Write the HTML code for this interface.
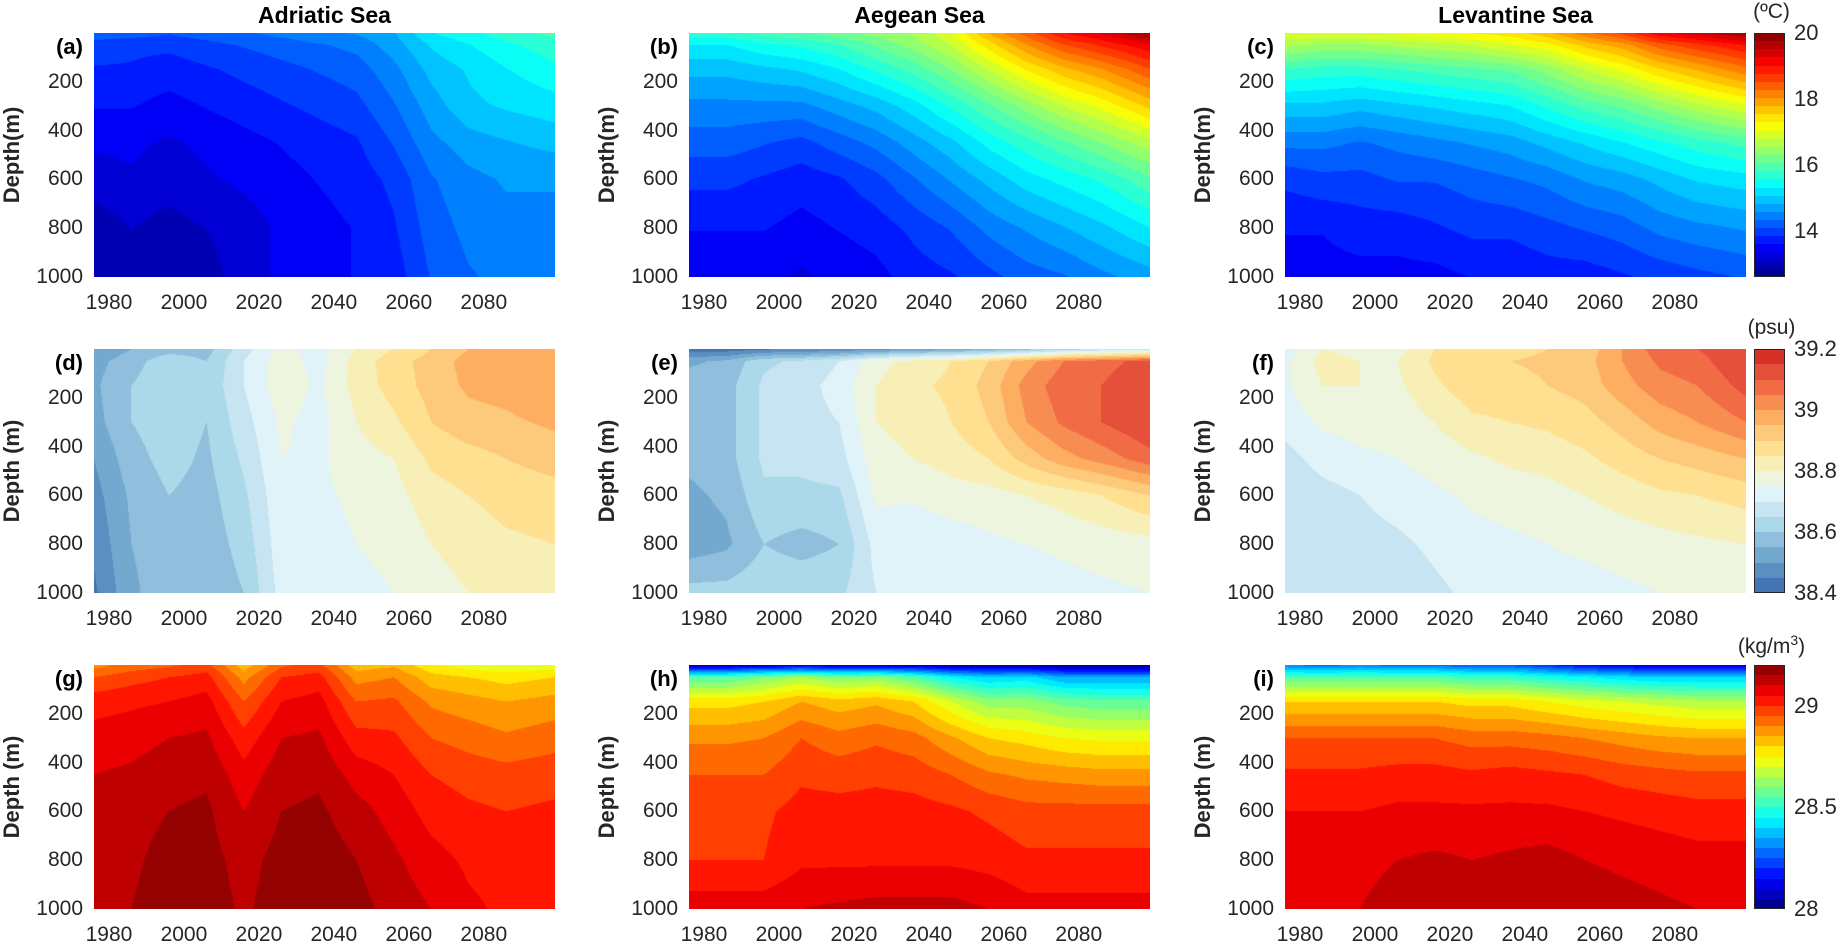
<!DOCTYPE html>
<html><head><meta charset="utf-8"><style>
body{margin:0;background:#fff;width:1841px;height:945px;overflow:hidden;position:relative;font-family:"Liberation Sans",sans-serif;color:#262626}
.t{position:absolute;white-space:nowrap}
canvas{position:absolute}
</style></head><body>
<div id="root"></div>
<script>
// ---- data ----
const years=[1976,1986,1996,2006,2016,2026,2036,2046,2056,2066,2076,2086,2099];
const depths=[0,50,150,300,450,600,800,1000];
const xTicks=[1980,2000,2020,2040,2060,2080];
const yTicks=[200,400,600,800,1000];
const tempTicks=[14,16,18,20];
const salTicks=[38.4,38.6,38.8,39,39.2];
const denTicks=[28,28.5,29];
const tempA=[[14.2,14.2,14.1,14.2,14.3,14.4,14.5,14.6,14.8,15.3,15.5,15.7,15.9],[14.0,13.9,13.9,14.0,14.1,14.2,14.3,14.4,14.7,15.1,15.3,15.5,15.7],[13.8,13.8,13.7,13.8,13.9,14.0,14.1,14.2,14.5,14.9,15.1,15.3,15.5],[13.6,13.6,13.5,13.6,13.7,13.8,13.9,14.0,14.3,14.7,15.0,15.1,15.2],[13.4,13.4,13.3,13.4,13.5,13.6,13.7,13.8,14.1,14.5,14.7,14.8,14.9],[13.2,13.3,13.2,13.3,13.4,13.5,13.6,13.7,13.9,14.3,14.5,14.6,14.6],[12.95,13.1,13.0,13.1,13.2,13.4,13.5,13.6,13.8,14.2,14.4,14.5,14.5],[12.85,13.0,12.95,13.0,13.2,13.4,13.5,13.6,13.7,14.1,14.3,14.4,14.4]];
const tempB=[[15.7,15.7,15.9,16.0,16.2,16.4,16.6,17.0,17.8,18.4,19.0,19.3,19.8],[15.3,15.3,15.5,15.6,15.8,16.1,16.4,16.8,17.4,18.0,18.5,18.8,19.2],[14.9,14.9,15.0,15.1,15.3,15.6,15.9,16.3,16.8,17.3,17.7,18.0,18.5],[14.5,14.5,14.5,14.5,14.7,14.9,15.2,15.6,16.0,16.4,16.8,17.1,17.6],[14.2,14.2,14.1,14.0,14.2,14.4,14.7,15.0,15.4,15.7,16.0,16.3,16.7],[13.9,13.9,13.8,13.7,13.8,14.0,14.3,14.6,14.9,15.2,15.4,15.6,16.0],[13.6,13.6,13.6,13.5,13.6,13.7,13.9,14.1,14.4,14.6,14.8,15.0,15.3],[13.4,13.4,13.4,13.3,13.4,13.5,13.7,13.8,14.0,14.2,14.3,14.5,14.7]];
const tempC=[[17.0,17.0,17.0,17.1,17.2,17.3,17.4,17.7,18.2,18.6,19.2,19.4,19.8],[16.6,16.5,16.5,16.6,16.7,16.8,17.0,17.2,17.6,17.9,18.4,18.7,19.0],[15.8,15.7,15.7,15.8,15.9,16.0,16.1,16.4,16.8,17.1,17.5,17.8,18.2],[15.0,15.0,14.9,15.0,15.1,15.2,15.3,15.6,15.9,16.1,16.4,16.7,17.0],[14.4,14.4,14.3,14.4,14.5,14.6,14.7,14.9,15.1,15.3,15.5,15.7,15.9],[13.9,14.0,14.0,14.1,14.1,14.2,14.3,14.4,14.6,14.7,14.9,15.1,15.2],[13.6,13.6,13.7,13.7,13.8,13.9,13.9,14.0,14.1,14.2,14.4,14.5,14.6],[13.5,13.5,13.5,13.5,13.5,13.6,13.6,13.7,13.7,13.8,13.9,14.0,14.1]];
const salD=[[38.50,38.55,38.58,38.58,38.68,38.76,38.73,38.80,38.85,38.90,38.95,38.95,38.98],[38.53,38.58,38.63,38.60,38.70,38.78,38.73,38.82,38.88,38.92,38.97,38.98,39.00],[38.54,38.60,38.64,38.61,38.70,38.78,38.74,38.82,38.87,38.92,38.96,38.97,39.00],[38.53,38.60,38.63,38.60,38.68,38.76,38.73,38.80,38.84,38.90,38.93,38.94,38.96],[38.50,38.58,38.62,38.59,38.66,38.75,38.74,38.78,38.80,38.86,38.88,38.90,38.92],[38.48,38.56,38.60,38.58,38.64,38.74,38.74,38.76,38.78,38.83,38.85,38.87,38.88],[38.46,38.55,38.58,38.57,38.62,38.73,38.73,38.75,38.76,38.80,38.82,38.84,38.85],[38.44,38.54,38.58,38.56,38.60,38.72,38.72,38.74,38.75,38.78,38.80,38.82,38.84]];
const salE=[[38.42,38.42,38.44,38.45,38.46,38.48,38.50,38.52,38.55,38.58,38.62,38.65,38.68],[38.54,38.56,38.64,38.66,38.70,38.78,38.82,38.85,38.90,38.98,39.05,39.08,39.12],[38.58,38.58,38.66,38.68,38.72,38.80,38.84,38.86,38.92,39.02,39.08,39.10,39.15],[38.58,38.58,38.66,38.68,38.70,38.80,38.82,38.85,38.90,39.00,39.06,39.10,39.15],[38.56,38.58,38.66,38.66,38.68,38.78,38.80,38.82,38.85,38.92,38.98,39.02,39.08],[38.54,38.56,38.64,38.64,38.64,38.76,38.76,38.78,38.78,38.80,38.82,38.85,38.90],[38.52,38.54,38.60,38.58,38.60,38.72,38.70,38.72,38.74,38.75,38.76,38.77,38.78],[38.62,38.62,38.64,38.64,38.64,38.70,38.72,38.72,38.72,38.72,38.73,38.74,38.75]];
const salF=[[38.72,38.80,38.78,38.78,38.85,38.88,38.88,38.90,38.92,39.00,39.08,39.10,39.15],[38.74,38.82,38.80,38.80,38.86,38.90,38.90,38.91,38.93,39.00,39.06,39.08,39.15],[38.74,38.80,38.80,38.79,38.84,38.88,38.88,38.90,38.92,38.98,39.03,39.05,39.12],[38.72,38.76,38.77,38.77,38.80,38.84,38.85,38.86,38.88,38.92,38.97,39.00,39.05],[38.68,38.72,38.74,38.75,38.77,38.79,38.81,38.82,38.84,38.87,38.90,38.92,38.95],[38.66,38.68,38.70,38.72,38.74,38.76,38.77,38.78,38.80,38.82,38.84,38.85,38.87],[38.65,38.66,38.68,38.69,38.71,38.73,38.74,38.75,38.76,38.77,38.78,38.79,38.80],[38.65,38.65,38.66,38.67,38.69,38.71,38.72,38.73,38.73,38.74,38.75,38.75,38.76]];
const denG=[[28.88,28.92,28.94,28.97,28.82,28.94,28.97,28.82,28.84,28.76,28.72,28.70,28.72],[28.95,28.98,29.00,29.02,28.88,29.00,29.02,28.88,28.90,28.82,28.80,28.78,28.80],[29.03,29.04,29.05,29.07,28.95,29.05,29.07,28.95,28.96,28.89,28.87,28.85,28.87],[29.07,29.08,29.10,29.11,29.02,29.10,29.11,29.02,29.01,28.95,28.93,28.91,28.93],[29.10,29.11,29.13,29.14,29.07,29.13,29.14,29.08,29.05,29.00,28.98,28.97,28.98],[29.12,29.13,29.15,29.16,29.10,29.15,29.16,29.12,29.08,29.03,29.01,29.00,29.01],[29.13,29.14,29.17,29.17,29.13,29.17,29.18,29.15,29.11,29.07,29.04,29.03,29.03],[29.14,29.15,29.18,29.18,29.14,29.18,29.18,29.17,29.13,29.10,29.06,29.04,29.03]];
const denH=[[28.05,28.05,28.08,28.10,28.08,28.08,28.08,28.05,28.05,28.05,28.02,28.02,28.02],[28.55,28.55,28.60,28.65,28.60,28.62,28.55,28.45,28.40,28.42,28.35,28.35,28.35],[28.78,28.78,28.80,28.85,28.82,28.84,28.80,28.70,28.62,28.62,28.58,28.56,28.56],[28.89,28.89,28.90,28.95,28.92,28.94,28.92,28.86,28.80,28.78,28.75,28.74,28.74],[28.95,28.95,28.95,28.99,28.98,28.99,28.98,28.95,28.91,28.89,28.88,28.87,28.87],[28.99,28.99,28.99,29.02,29.02,29.02,29.02,29.01,28.99,28.97,28.97,28.97,28.97],[29.00,29.00,29.00,29.04,29.04,29.04,29.04,29.04,29.03,29.01,29.01,29.01,29.01],[29.08,29.08,29.08,29.10,29.11,29.12,29.12,29.12,29.10,29.07,29.07,29.07,29.07]];
const denI=[[28.30,28.28,28.30,28.28,28.28,28.25,28.25,28.20,28.15,28.12,28.10,28.10,28.10],[28.55,28.55,28.55,28.55,28.55,28.52,28.52,28.48,28.45,28.42,28.40,28.40,28.40],[28.80,28.80,28.80,28.80,28.80,28.78,28.78,28.75,28.72,28.70,28.68,28.66,28.66],[28.95,28.95,28.95,28.95,28.95,28.93,28.93,28.92,28.90,28.88,28.86,28.85,28.85],[29.01,29.01,29.01,29.02,29.02,29.01,29.02,29.01,29.00,28.98,28.97,28.96,28.96],[29.05,29.05,29.05,29.06,29.06,29.06,29.06,29.06,29.05,29.04,29.03,29.02,29.02],[29.07,29.07,29.08,29.10,29.11,29.10,29.11,29.12,29.10,29.09,29.08,29.07,29.07],[29.09,29.09,29.10,29.13,29.13,29.13,29.14,29.14,29.13,29.12,29.11,29.10,29.09]];

// ---- layout ----
const X0=1976,X1=2099,D1=1000;
const colL=[94,689,1285],PW=461;
const rowT=[33,349,665],PH=244;
const CBX=1754,CBW=31;
const salCols=['#4575b4','#5b8fc2','#74a9cf','#8fbfdc','#abd9e9','#c6e4f2','#e0f3f8','#eef5df','#f7efb5','#fee090','#fdc97a','#fdae61','#f88d52','#f16c44','#e4503a','#d73027'];
function jet(x){const c=v=>Math.max(0,Math.min(1,v));return [c(1.5-Math.abs(4*x-3)),c(1.5-Math.abs(4*x-2)),c(1.5-Math.abs(4*x-1))].map(v=>Math.round(v*255));}
function hex(h){return [parseInt(h.substr(1,2),16),parseInt(h.substr(3,2),16),parseInt(h.substr(5,2),16)];}
const scales=[
 {min:12.6,max:20,n:30,cmap:i=>jet((i+0.5)/30),ticks:tempTicks,unit:'(ºC)'},
 {min:38.4,max:39.2,n:16,cmap:i=>hex(salCols[i]),ticks:salTicks,unit:'(psu)'},
 {min:28,max:29.2,n:24,cmap:i=>jet((i+0.5)/24),ticks:denTicks,unit:'(kg/m<sup style="font-size:14px">3</sup>)'}];
const panels=[[tempA,tempB,tempC],[salD,salE,salF],[denG,denH,denI]];
const letters=[['a','b','c'],['d','e','f'],['g','h','i']];
const titles=['Adriatic Sea','Aegean Sea','Levantine Sea'];
const vars=['temperature','salinity','density'];
const root=document.getElementById('root');
const xs=y=>(y-X0)/(X1-X0)*PW;
const ys=d=>d/D1*PH;
function txt(s,x,y,css,name){const e=document.createElement('div');e.className='t';e.innerHTML=s;e.style.cssText+=`left:${x}px;top:${y}px;`+css;


root.appendChild(e);return e;}
function interp(arr,yr,d){
 let i=0;while(i<years.length-2&&yr>years[i+1])i++;
 let j=0;while(j<depths.length-2&&d>depths[j+1])j++;
 const tx=Math.max(0,Math.min(1,(yr-years[i])/(years[i+1]-years[i])));
 const ty=Math.max(0,Math.min(1,(d-depths[j])/(depths[j+1]-depths[j])));
 const a=arr[j][i]*(1-tx)+arr[j][i+1]*tx,b=arr[j+1][i]*(1-tx)+arr[j+1][i+1]*tx;
 return a*(1-ty)+b*ty;}
titles.forEach((t,c)=>txt(t,colL[c]+PW/2,2,'transform:translateX(-50%);font-weight:bold;font-size:23px;color:#000','column-title-'+t.toLowerCase().replace(/ /g,'-')));
for(let r=0;r<3;r++){
 const sc=scales[r];
 for(let c=0;c<3;c++){
  const cv=document.createElement('canvas');cv.width=PW;cv.height=PH;
  cv.style.left=colL[c]+'px';cv.style.top=rowT[r]+'px';
  
  
  root.appendChild(cv);
  const ctx=cv.getContext('2d');const im=ctx.createImageData(PW,PH);
  const arr=panels[r][c];
  for(let py=0;py<PH;py++){const d=(py+0.5)/PH*D1;
   for(let px=0;px<PW;px++){const yr=X0+(px+0.5)/PW*(X1-X0);
    const v=interp(arr,yr,d);
    let k=Math.floor((v-sc.min)/(sc.max-sc.min)*sc.n);k=Math.max(0,Math.min(sc.n-1,k));
    const col=sc.cmap(k);const o=(py*PW+px)*4;
    im.data[o]=col[0];im.data[o+1]=col[1];im.data[o+2]=col[2];im.data[o+3]=255;}}
  ctx.putImageData(im,0,0);
  const L=colL[c],T=rowT[r];
  txt('('+letters[r][c]+')',L-11,T+1,'transform:translateX(-100%);font-weight:bold;font-size:22px;color:#000','panel-label-'+letters[r][c]);
  yTicks.forEach(v=>txt(String(v),L-11,T+ys(v)-12,'transform:translateX(-100%);font-size:21px','y-tick-'+v));
  xTicks.forEach(v=>txt(String(v),L+xs(v),T+PH+14,'transform:translateX(-50%);font-size:21px','x-tick-'+v));
  txt(r==0?'Depth(m)':'Depth (m)',L-82,T+PH/2,'transform:translate(-50%,-50%) rotate(-90deg);font-weight:bold;font-size:22px','y-axis-title');
 }
 const cb=document.createElement('div');cb.style.cssText=`position:absolute;left:${CBX}px;top:${rowT[r]}px;width:${CBW}px;height:${PH}px;border:1px solid #262626;box-sizing:border-box;overflow:hidden`;
 
 
 root.appendChild(cb);
 for(let k=0;k<sc.n;k++){const b=document.createElement('div');const col=sc.cmap(k);
  b.style.cssText=`position:absolute;left:0;right:0;bottom:${k/sc.n*PH-1}px;height:${PH/sc.n+1}px;background:rgb(${col})`;
  
  
  cb.appendChild(b);}
 sc.ticks.forEach(v=>{const y=rowT[r]+PH-(v-sc.min)/(sc.max-sc.min)*PH;
  txt(String(v),CBX+CBW+9,y-13,'font-size:22px','colorbar-tick-'+v);});
 txt(sc.unit,CBX+CBW/2+2,rowT[r]-33,'transform:translateX(-50%);font-size:21px','colorbar-unit-'+vars[r]);
}
</script>
</body></html>
